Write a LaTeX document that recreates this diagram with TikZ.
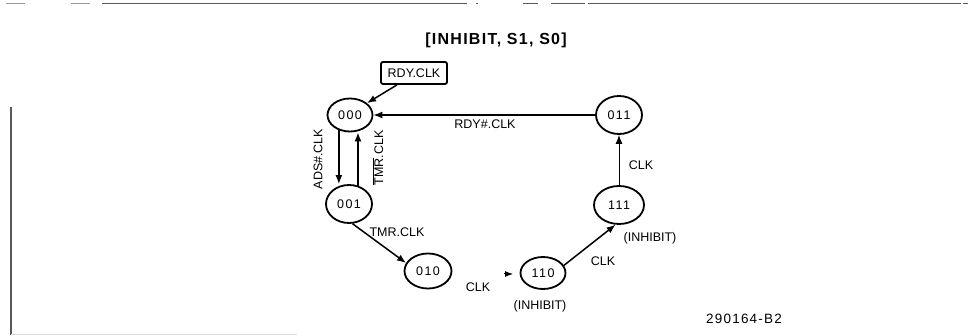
\documentclass[tikz,border=0pt]{standalone}
\usepackage{fontspec}
\setmainfont{Liberation Sans}
\usetikzlibrary{shapes.geometric,arrows.meta,calc}
\begin{document}
\begin{tikzpicture}[x=1pt,y=-1pt,
  state/.style={ellipse, draw, line width=1.8pt, minimum width=46pt, minimum height=36pt, inner sep=0pt,
    font=\fontsize{12.5}{14}\selectfont\addfontfeature{LetterSpace=12}},
  lab/.style={font=\fontsize{12.5}{14}\selectfont, inner sep=0pt},
  arr/.style={line width=1.5pt, -{Latex[length=9pt,width=7pt]}},
  scanline/.style={draw=black!65, line width=1.5pt}]
\useasboundingbox (0,0) rectangle (969,336);
% scan frame remnants
\draw[scanline] (102,3.5) -- (467,3.5);
\draw[scanline] (588,3.5) -- (961,3.5);
\draw[scanline, line width=1pt] (551,3.5) -- (585,3.5);
\draw[scanline, line width=1pt] (523,3.5) -- (538,3.5);
\draw[scanline, line width=1pt] (476,3.5) -- (478,3.5);
\draw[scanline, line width=1pt] (963,3.5) -- (968,3.5);
\draw[scanline, line width=1pt, draw=black!40] (6,3.5) -- (25,3.5);
\draw[scanline, line width=1pt, draw=black!40] (71,3.5) -- (90,3.5);
\draw[scanline] (11,107) -- (11,335);
\draw[draw=black!15, line width=1pt] (11,334.5) -- (297,334.5);
% title
\node[font=\fontsize{16}{18}\selectfont\bfseries\addfontfeature{LetterSpace=8}] (title) at (496,40) {[INHIBIT, S1, S0]};
% states
\node[state, minimum width=45pt, minimum height=33pt] (n000) at (350,115) {000};
\node[state, minimum height=38pt] (n001) at (349,204) {001};
\node[state, minimum width=47pt, minimum height=35pt] (n010) at (428,271) {010};
\node[state, minimum width=45pt, minimum height=32pt] (n110) at (543,273) {110};
\node[state, minimum width=50pt, minimum height=38pt] (n111) at (619,205) {111};
\node[state, minimum height=38pt] (n011) at (619,115) {011};
\node[draw, line width=1.8pt, rounded corners=2pt, minimum width=66pt, minimum height=22pt, lab] (rdy) at (414,73) {RDY.CLK};
% connectors
\draw[arr] (rdy.-145) -- (n000.35);
\draw[arr] (n000.-126) -- (n000.-126 |- n001.north);
\draw[arr] (n001.64) -- (n001.64 |- n000.south);
\draw[arr] (n001.-80) -- (n010.160);
\coordinate (ina) at (504,274);
\coordinate (inb) at (513,274);
\draw[-{Latex[length=8pt,width=6pt]}, line width=1pt] (ina) -- (inb);
\draw[arr] (n110.20) -- (n111.-100);
\draw[arr, line width=1pt] (n111) -- (n011);
\draw[arr, line width=1.3pt] (n011) -- (n000);
% labels
\node[lab, rotate=90] (lads) at (318,159) {ADS\#.CLK};
\node[lab, rotate=90] (ltmr) at (378,158) {$\overline{\mbox{TMR}}$.CLK};
\node[lab] (ltmr2) at (397,232) {TMR.CLK};
\node[lab] (lclk1) at (478,287) {CLK};
\node[lab] (linh1) at (540,306) {(INHIBIT)};
\node[lab] (lclk2) at (603,261) {CLK};
\node[lab] (lclk3) at (641,165) {CLK};
\node[lab] (linh2) at (650,238) {(INHIBIT)};
\node[lab] (lrdy) at (485,124) {RDY\#.CLK};
\node[font=\fontsize{13.5}{15}\selectfont\addfontfeature{LetterSpace=9}] (code) at (744,319) {290164-B2};
\end{tikzpicture}
\end{document}
